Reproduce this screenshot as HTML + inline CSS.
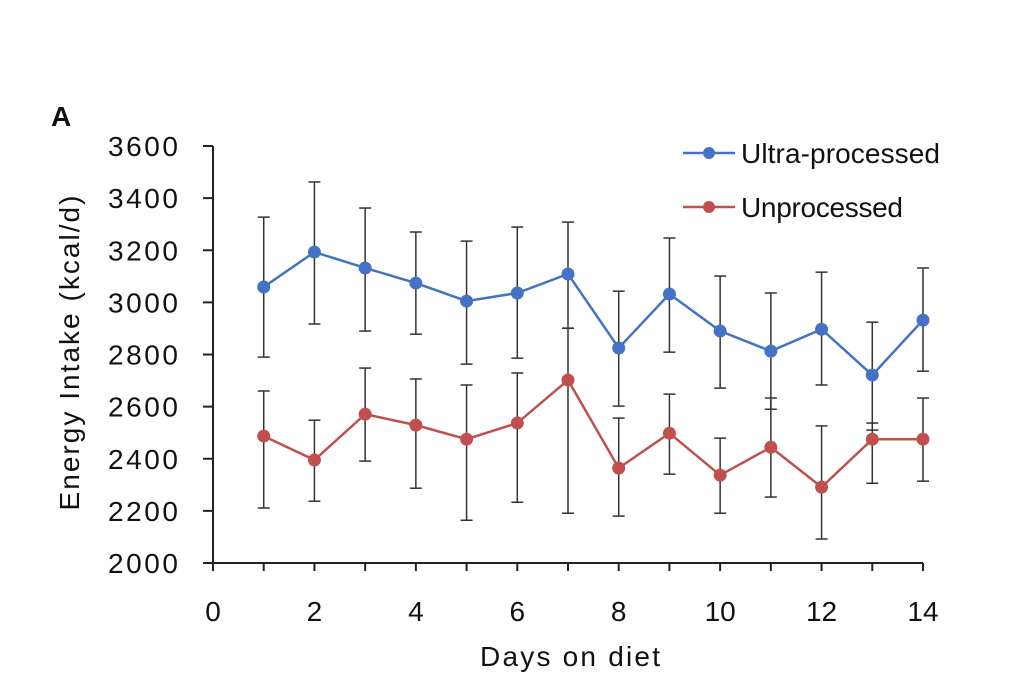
<!DOCTYPE html>
<html><head><meta charset="utf-8"><style>
body{margin:0;background:#fff;}
svg text{font-family:"Liberation Sans",Arial,sans-serif;fill:#111;}
</style></head><body>
<svg id="chart" width="1023" height="672" xmlns="http://www.w3.org/2000/svg">
<text x="51" y="126" font-size="28" font-weight="bold">A</text>
<g id="axes"></g>
<g id="series"></g>
<g>
<g>
<line x1="683" y1="153" x2="735" y2="153" stroke="#4472C4" stroke-width="2.5"/>
<circle cx="709" cy="153" r="6" fill="#4472C4"/>
<text x="741" y="163" font-size="28" textLength="199">Ultra-processed</text></g>
<g>
<line x1="683" y1="207" x2="735" y2="207" stroke="#C0504D" stroke-width="2.5"/>
<circle cx="709" cy="207" r="6" fill="#C0504D"/>
<text x="741" y="217" font-size="28" textLength="162">Unprocessed</text></g>
</g>
</svg>
<script>
const days=[1,2,3,4,5,6,7,8,9,10,11,12,13,14];
const ultraMean=[3059,3193,3132,3074,3005,3036,3109,2825,3032,2890,2813,2897,2721,2932];
const ultraHi=[3327,3462,3362,3270,3235,3289,3308,3043,3247,3101,3036,3116,2924,3132];
const ultraLo=[2790,2917,2890,2878,2763,2786,2901,2602,2809,2671,2590,2683,2510,2736];
const unprocMean=[2487,2395,2571,2529,2475,2537,2702,2364,2498,2337,2444,2291,2475,2475];
const unprocHi=[2660,2548,2748,2706,2683,2729,2901,2556,2648,2479,2633,2526,2537,2633];
const unprocLo=[2211,2237,2391,2287,2164,2233,2191,2180,2341,2191,2253,2092,2306,2314];
const yTicks=[2000,2200,2400,2600,2800,3000,3200,3400,3600];
const xTicks=[0,2,4,6,8,10,12,14];
const NS="http://www.w3.org/2000/svg";
const X=v=>213+(v-0)*(923-213)/14;
const Y=v=>563-(v-2000)*(563-146)/1600;
function mk(t,a,p){const e=document.createElementNS(NS,t);for(const k in a)e.setAttribute(k,a[k]);p.appendChild(e);return e;}
const ax=document.getElementById('axes');
const ya=mk('line',{x1:213,y1:Y(3600),x2:213,y2:563,stroke:'#222','stroke-width':2},ax);


const xa=mk('line',{x1:213,y1:563,x2:923,y2:563,stroke:'#222','stroke-width':2},ax);


yTicks.forEach(v=>{
 mk('line',{x1:203,y1:Y(v),x2:213,y2:Y(v),stroke:'#222','stroke-width':2},ax);
 const t=mk('text',{x:178,y:Y(v)+10,'font-size':28,'text-anchor':'end',textLength:70},ax);t.textContent=v;
 
 
});
for(let d=0;d<=14;d++){mk('line',{x1:X(d),y1:563,x2:X(d),y2:571,stroke:'#222','stroke-width':2},ax);}
xTicks.forEach(v=>{
 const t=mk('text',{x:X(v),y:621,'font-size':28,'text-anchor':'middle'},ax);t.textContent=v;
 
 
});
const xt=mk('text',{x:570,y:666,'font-size':28,'text-anchor':'middle',textLength:180},ax);xt.textContent='Days on diet';


const yt=mk('text',{x:0,y:0,'font-size':28,'text-anchor':'middle',textLength:315,transform:'translate(79,353) rotate(-90)'},ax);yt.textContent='Energy Intake (kcal/d)';


const sg=document.getElementById('series');
function draw(mean,hi,lo,color,name){
 const g=mk('g',{},sg);
 
 
 days.forEach((d,i)=>{
  mk('line',{x1:X(d),y1:Y(hi[i]),x2:X(d),y2:Y(lo[i]),stroke:'#333','stroke-width':1.5},g);
  mk('line',{x1:X(d)-6,y1:Y(hi[i]),x2:X(d)+6,y2:Y(hi[i]),stroke:'#333','stroke-width':1.5},g);
  mk('line',{x1:X(d)-6,y1:Y(lo[i]),x2:X(d)+6,y2:Y(lo[i]),stroke:'#333','stroke-width':1.5},g);
 });
 mk('polyline',{points:days.map((d,i)=>X(d)+','+Y(mean[i])).join(' '),fill:'none',stroke:color,'stroke-width':2.5},g);
 days.forEach((d,i)=>{
  const c=mk('circle',{cx:X(d),cy:Y(mean[i]),r:6.5,fill:color},g);
  
  
 });
}
draw(unprocMean,unprocHi,unprocLo,'#C0504D','unprocessed');
draw(ultraMean,ultraHi,ultraLo,'#4472C4','ultra-processed');
</script>
</body></html>
